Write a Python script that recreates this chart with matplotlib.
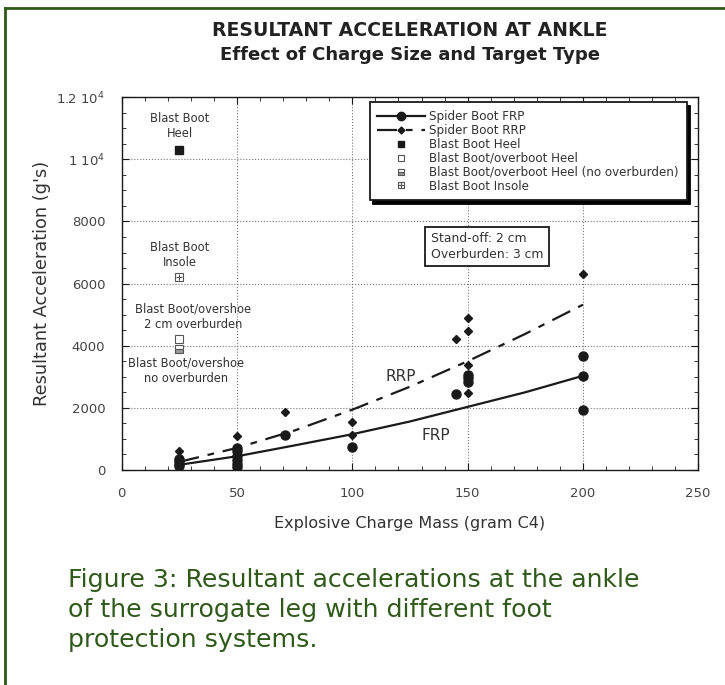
import matplotlib.pyplot as plt
from matplotlib.lines import Line2D
from matplotlib.legend_handler import HandlerTuple
from matplotlib.ticker import MultipleLocator

plt.rcParams['font.family'] = ['DejaVu Sans']

# Spider boot measurements (gram C4, g's)
frp_x = [25, 25, 25, 25, 50, 50, 50, 50, 50, 50, 71, 100, 145, 150, 150, 150, 200, 200, 200]
frp_y = [120, 200, 280, 350, 80, 200, 320, 450, 600, 720, 1130, 740, 2450, 2840, 2970, 3060, 1940, 3030, 3680]
rrp_x = [25, 25, 50, 50, 71, 100, 100, 145, 150, 150, 150, 150, 200]
rrp_y = [620, 200, 1100, 300, 1850, 1550, 1130, 4200, 2480, 3390, 4480, 4900, 6320]

# fitted curves
fit_x = [25, 50, 75, 100, 125, 150, 175, 200]
frp_fit = [165, 440, 790, 1150, 1560, 2030, 2500, 3030]
rrp_fit = [260, 710, 1270, 1940, 2680, 3500, 4380, 5320]

# blast boot single results at 25 g
heel_y = 10300
insole_y = 6200
overboot_y = 4200
no_overburden_y = 3900
blast_x = 25

ink = '#1a1a1a'
grey_txt = '#333333'
green = '#2f5a1a'

fig = plt.figure(figsize=(7.25, 6.85), dpi=100)
ax = fig.add_axes([0.168, 0.314, 0.795, 0.544])

ax.plot(fit_x, frp_fit, color=ink, lw=1.6)
ax.plot(fit_x, rrp_fit, color=ink, lw=1.6, dashes=(9, 4, 3, 4))
ax.plot(frp_x, frp_y, 'o', color=ink, ms=6.5, ls='none')
ax.plot(rrp_x, rrp_y, 'D', color=ink, ms=3.8, ls='none')

ax.plot(blast_x, heel_y, 's', mfc=ink, mec=ink, ms=6)
ax.plot(blast_x, insole_y, 's', mfc='white', mec='#555', ms=6, mew=0.8)
ax.plot(blast_x, insole_y, '+', color='#555', ms=5, mew=0.8)
ax.plot(blast_x, overboot_y, 's', mfc='white', mec='#555', ms=6, mew=0.8)
ax.plot(blast_x, no_overburden_y, 's', fillstyle='bottom', mfc='#999', mfcalt='white',
        mec='#555', ms=6, mew=0.8)

ax.set_xlim(0, 250)
ax.set_ylim(0, 12000)
ax.xaxis.set_major_locator(MultipleLocator(50))
ax.xaxis.set_minor_locator(MultipleLocator(10))
ax.yaxis.set_minor_locator(MultipleLocator(500))
ax.set_yticks([0, 2000, 4000, 6000, 8000, 10000, 12000])
ax.set_yticklabels(['0', '2000', '4000', '6000', '8000', '1 10$^4$', '1.2 10$^4$'])
ax.tick_params(which='both', direction='in', top=True, right=True, colors=ink,
               labelsize=9.5, labelcolor='#444')
ax.tick_params(which='major', length=5, pad=12)
ax.tick_params(which='minor', length=3)
ax.grid(True, which='major', ls=':', color='#777', lw=0.8)
for s in ax.spines.values():
    s.set_color(ink)
    s.set_linewidth(1.0)

ax.set_xlabel('Explosive Charge Mass (gram C4)', fontsize=11.5, color=grey_txt, labelpad=12)
ax.set_ylabel("Resultant Acceleration (g's)", fontsize=12.8, color=grey_txt, labelpad=4)

# annotations
txt = dict(ha='center', va='center', fontsize=8.3, color=grey_txt, linespacing=1.2)
ax.text(25, 11060, 'Blast Boot\nHeel', **txt)
ax.text(25, 6930, 'Blast Boot\nInsole', **txt)
ax.text(31, 4935, 'Blast Boot/overshoe\n2 cm overburden', **txt)
ax.text(28, 3190, 'Blast Boot/overshoe\nno overburden', **txt)
ax.text(121, 3000, 'RRP', ha='center', va='center', fontsize=11, color=grey_txt)
ax.text(136, 1100, 'FRP', ha='center', va='center', fontsize=11, color=grey_txt)
ax.text(134, 7190, 'Stand-off: 2 cm\nOverburden: 3 cm', ha='left', va='center', fontsize=8.9,
        color=grey_txt, linespacing=1.25,
        bbox=dict(boxstyle='square,pad=0.45', fc='white', ec=ink, lw=1.3))

handles = [
    Line2D([], [], color=ink, lw=1.6, marker='o', ms=6),
    Line2D([], [], color=ink, lw=1.6, dashes=(9, 4, 3, 4), marker='D', ms=3.5),
    Line2D([], [], ls='none', marker='s', mfc=ink, mec=ink, ms=5),
    Line2D([], [], ls='none', marker='s', mfc='white', mec='#555', ms=5, mew=0.8),
    Line2D([], [], ls='none', marker='s', fillstyle='bottom', mfc='#999', mfcalt='white',
           mec='#555', ms=5, mew=0.8),
    (Line2D([], [], ls='none', marker='s', mfc='white', mec='#555', ms=5, mew=0.8),
     Line2D([], [], ls='none', marker='+', color='#555', ms=4.5, mew=0.8)),
]
labels = ['Spider Boot FRP', 'Spider Boot RRP', 'Blast Boot Heel', 'Blast Boot/overboot Heel',
          'Blast Boot/overboot Heel (no overburden)', 'Blast Boot Insole']
leg = ax.legend(handles, labels, loc='upper right', bbox_to_anchor=(0.98, 0.987),
                fontsize=8.6, frameon=True, fancybox=False, handlelength=4.0,
                labelspacing=0.08, borderpad=0.65, handletextpad=0.35, borderaxespad=0,
                shadow={'color': 'black', 'alpha': 1, 'ox': 2.5, 'oy': -2.5},
                handler_map={tuple: HandlerTuple(ndivide=1)})
leg.get_frame().set_edgecolor(ink)
leg.get_frame().set_linewidth(1.3)
leg.get_frame().set_alpha(1)
for t in leg.get_texts():
    t.set_color(grey_txt)

fig.text(410 / 725, 1 - 30 / 685, 'RESULTANT ACCELERATION AT ANKLE', ha='center', va='center',
         fontsize=13.6, fontweight='bold', color='#222')
fig.text(410 / 725, 1 - 55 / 685, 'Effect of Charge Size and Target Type', ha='center',
         va='center', fontsize=13, fontweight='bold', color='#222')

fig.text(68 / 725, 1 - 610 / 685,
         'Figure 3: Resultant accelerations at the ankle\nof the surrogate leg with different foot\nprotection systems.',
         ha='left', va='center', fontsize=18.2, color=green, linespacing=1.3)

# green page frame
fig.add_artist(Line2D([5 / 725, 5 / 725], [0, 1 - 8 / 685], color=green, lw=2,
                      transform=fig.transFigure))
fig.add_artist(Line2D([5 / 725, 1], [1 - 8 / 685, 1 - 8 / 685], color=green, lw=2,
                      transform=fig.transFigure))

fig.savefig('out.png', dpi=100)
